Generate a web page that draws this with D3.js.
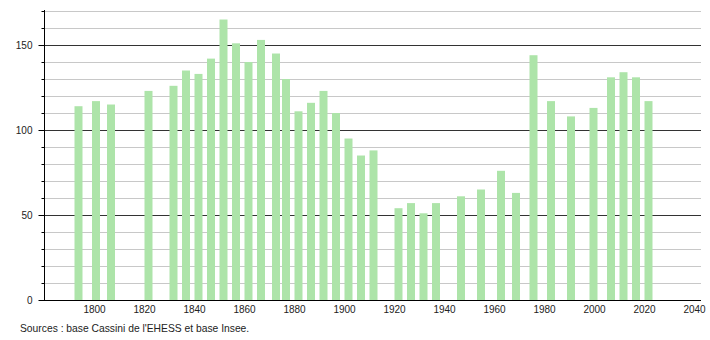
<!DOCTYPE html>
<html>
<head>
<meta charset="utf-8">
<script src="https://cdn.jsdelivr.net/npm/d3@7"></script>
<style>
  body { margin: 0; background: #fff; }
  svg text { font-family: "Liberation Sans", Arial, sans-serif; fill: #222; }
</style>
</head>
<body>
<div id="chart"></div>
<script>
// census years and population
var years = [1793, 1800, 1806, 1821, 1831, 1836, 1841, 1846, 1851, 1856, 1861, 1866, 1872, 1876,
    1881, 1886, 1891, 1896, 1901, 1906, 1911, 1921, 1926, 1931, 1936, 1946, 1954, 1962, 1968,
    1975, 1982, 1990, 1999, 2006, 2011, 2016, 2021];
var population = [114, 117, 115, 123, 126, 135, 133, 142, 165, 151, 140, 153, 145, 130,
    111, 116, 123, 110, 95, 85, 88, 54, 57, 51, 57, 61, 65, 76, 63,
    144, 117, 108, 113, 131, 134, 131, 117];
var xTicks = [1800, 1820, 1840, 1860, 1880, 1900, 1920, 1940, 1960, 1980, 2000, 2020, 2040];
var yMajor = [0, 50, 100, 150];
var yMinor = [10, 20, 30, 40, 60, 70, 80, 90, 110, 120, 130, 140, 160, 170];
var sourceText = "Sources : base Cassini de l'EHESS et base Insee.";

var W = 710, H = 340;
var plot = { left: 44, right: 701, top: 10, bottom: 300 };

var x = d3.scaleLinear().domain([1780, 2042.8]).range([plot.left, plot.right]);
var y = d3.scaleLinear().domain([0, 170.6]).range([plot.bottom, plot.top]);

function py(d) { return Math.round(y(d)) + 0.5; }

var svg = d3.select("#chart").append("svg")
    .attr("width", W)
    .attr("height", H);

// grid lines
svg.append("g").selectAll("line")
    .data(yMinor)
    .enter().append("line")
    .attr("x1", plot.left).attr("x2", plot.right)
    .attr("y1", py).attr("y2", py)
    .attr("stroke", "#c8c8c8")
    .attr("stroke-width", 1);

svg.append("g").selectAll("line")
    .data(yMajor.filter(function (d) { return d > 0; }))
    .enter().append("line")
    .attr("x1", plot.left).attr("x2", plot.right)
    .attr("y1", py).attr("y2", py)
    .attr("stroke", "#333")
    .attr("stroke-width", 1);

// bars
var barW = 8;
svg.append("g").selectAll("rect")
    .data(years)
    .enter().append("rect")
    .attr("x", function (d) { return x(d) - 2; })
    .attr("width", barW)
    .attr("y", function (d, i) { return y(population[i]); })
    .attr("height", function (d, i) { return y(0) - y(population[i]); })
    .attr("fill", "#ade4a9");

// y axis
var yAxis = d3.axisLeft(y).tickValues(yMajor).tickSize(6).tickFormat(d3.format("d"));
var gy = svg.append("g")
    .attr("transform", "translate(" + (plot.left + 0.5) + ",0)")
    .call(yAxis);
gy.select(".domain").attr("d", "M0," + plot.top + "V" + (plot.bottom + 0.5)).attr("stroke", "#000");
gy.selectAll(".tick line").attr("stroke", "#000");
gy.selectAll(".tick text").attr("x", -12).style("font-size", "10px").attr("fill", "#222");

gy.append("g").selectAll("line")
    .data(yMinor)
    .enter().append("line")
    .attr("x1", -3).attr("x2", 0)
    .attr("y1", py).attr("y2", py)
    .attr("stroke", "#000");

// x axis
var xAxis = d3.axisBottom(x).tickValues(xTicks).tickSize(0).tickPadding(5).tickFormat(d3.format("d"));
var gx = svg.append("g")
    .attr("transform", "translate(0," + (plot.bottom + 0.5) + ")")
    .call(xAxis);
gx.select(".domain").attr("d", "M39,0H" + plot.right).attr("stroke", "#000").attr("stroke-width", 1.2);
gx.selectAll(".tick text").style("font-size", "10px").attr("fill", "#222");

svg.append("text")
    .attr("x", 20)
    .attr("y", 332)
    .style("font-size", "10.3px")
    .text(sourceText);
</script>
</body>
</html>
